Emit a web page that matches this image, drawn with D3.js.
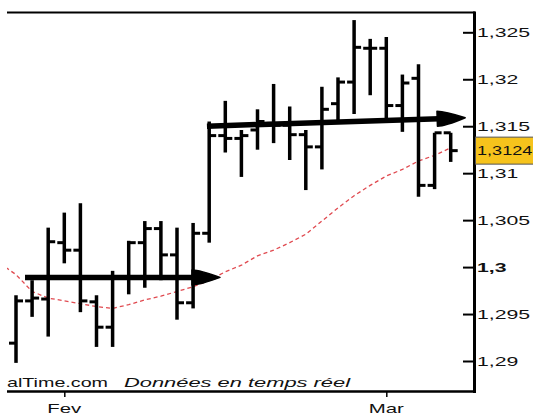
<!DOCTYPE html>
<html><head><meta charset="utf-8">
<script src="https://cdn.jsdelivr.net/npm/d3@7"></script>
<style>html,body{margin:0;padding:0;background:#fff;overflow:hidden}</style>
</head><body><svg id="c" width="533" height="415"></svg>
<script>
// ---- data ----
const dates = ["29/01","30/01","31/01","01/02","02/02","05/02","06/02","07/02","08/02","09/02",
  "12/02","13/02","14/02","15/02","16/02","19/02","20/02","21/02","22/02","23/02",
  "26/02","27/02","28/02","01/03","02/03","05/03","06/03","07/03"];
const open  = [1.2919,1.2964,1.2966,1.3026,1.3018,1.2963,1.2936,1.2988,1.3026,1.3041,
  1.3013,1.2962,1.3036,1.3140,1.3137,1.3146,1.3153,1.3151,1.3141,1.3128,
  1.3174,1.3197,1.3233,1.3233,1.3172,1.3201,1.3087,1.3143];
const high  = [1.2970,1.2986,1.3042,1.3058,1.3068,1.2970,1.2996,1.3028,1.3049,1.3049,
  1.3042,1.3047,1.3155,1.3177,1.3146,1.3168,1.3195,1.3171,1.3146,1.3192,
  1.3202,1.3263,1.3243,1.3245,1.3205,1.3216,1.3143,1.3143];
const low   = [1.2898,1.2947,1.2926,1.3004,1.2952,1.2915,1.2915,1.2971,1.2978,1.2986,
  1.2944,1.2956,1.3026,1.3122,1.3096,1.3125,1.3132,1.3114,1.3082,1.3104,
  1.3155,1.3163,1.3183,1.3157,1.3144,1.3075,1.3083,1.3112];
const close = [1.2964,1.2967,1.3027,1.3018,1.2964,1.2936,1.2988,1.3026,1.3041,1.3013,
  1.2962,1.3036,1.3140,1.3137,1.3140,1.3155,1.3151,1.3141,1.3128,1.3168,
  1.3197,1.3234,1.3233,1.3172,1.3196,1.3087,1.3143,1.3124];
const maPrev = 1.3004; // 26/01
const ma = [1.2992,1.2974,1.2967,1.2964,1.2961,1.2958,1.2956,1.2960,1.2965,1.2969,
  1.2974,1.2979,1.2986,1.2995,1.3002,1.3012,1.3018,1.3026,1.3035,1.3049,
  1.3063,1.3076,1.3087,1.3097,1.3104,1.3113,1.3119,1.3127];
const trendStartIdx = [0.56, 11.86];
const trendEndIdx   = [12.67, 27.9];
const trendStartVal = [1.2989, 1.3150];
const trendEndVal   = [1.2989, 1.3159];
const yTicks = [1.29,1.295,1.3,1.305,1.31,1.315,1.32,1.325];
const monthTickIdx = [3, 23];
const monthLabels = ["Fev","Mar"];
const lastPrice = 1.3124;
const footerSource = "alTime.com";
const footerNote = "Données en temps réel";

// ---- drawing ----
const svg = d3.select("#c");
const x = d3.scaleLinear().domain([0, dates.length-1]).range([16, 450.7]);
const y = d3.scaleLinear().domain([1.29, 1.325]).range([361, 32.3]);
const fmt = d3.formatLocale({decimal:",",thousands:" ",grouping:[3],currency:["","€"]}).format("~g");
const SX = 1.7;
const FONT = "Liberation Sans, Arial, sans-serif";

svg.append("defs").append("clipPath").attr("id","clip")
  .append("rect").attr("x",7).attr("y",13).attr("width",466).attr("height",377);
const g = svg.append("g").attr("clip-path","url(#clip)");

// moving average
const maPts = [[-1, maPrev]].concat(ma.map((v,i)=>[i,v]));
g.append("path")
  .attr("d", d3.line().x(d=>x(d[0])).y(d=>y(d[1]))(maPts))
  .attr("fill","none").attr("stroke","#e04a50").attr("stroke-width",1.3)
  .attr("stroke-dasharray","4,3");

// OHLC bars
const bars = g.selectAll("g.bar").data(dates).join("g").attr("class","bar");
bars.append("line").attr("x1",(d,i)=>x(i)).attr("x2",(d,i)=>x(i))
  .attr("y1",(d,i)=>y(high[i])).attr("y2",(d,i)=>y(low[i]))
  .attr("stroke","#000").attr("stroke-width",3.5);
bars.append("line").attr("x1",(d,i)=>x(i)-7).attr("x2",(d,i)=>x(i))
  .attr("y1",(d,i)=>y(open[i])).attr("y2",(d,i)=>y(open[i]))
  .attr("stroke","#000").attr("stroke-width",3);
bars.append("line").attr("x1",(d,i)=>x(i)).attr("x2",(d,i)=>x(i)+7)
  .attr("y1",(d,i)=>y(close[i])).attr("y2",(d,i)=>y(close[i]))
  .attr("stroke","#000").attr("stroke-width",3);

// trend arrows
trendStartIdx.forEach((s,k)=>{
  const x0=x(s), y0=y(trendStartVal[k]), x1=x(trendEndIdx[k]), y1=y(trendEndVal[k]);
  const ang = Math.atan2(y1-y0, x1-x0);
  const L=28, Hh=7.5;
  const bx = x1 - L*Math.cos(ang), by = y1 - L*Math.sin(ang);
  g.append("line").attr("x1",x0).attr("y1",y0).attr("x2",bx+2).attr("y2",by)
    .attr("stroke","#000").attr("stroke-width",5.5);
  const nx = -Math.sin(ang), ny = Math.cos(ang);
  g.append("path")
    .attr("d",`M${bx+nx*Hh},${by+ny*Hh} Q${bx+8},${by+ny*Hh} ${x1},${y1} Q${bx+8},${by-ny*Hh} ${bx-nx*Hh},${by-ny*Hh} Z`)
    .attr("fill","#000").attr("stroke","#000").attr("stroke-width",1.5).attr("stroke-linejoin","round");
});

// frame
svg.append("line").attr("x1",7).attr("x2",475).attr("y1",12.5).attr("y2",12.5)
  .attr("stroke","#000").attr("stroke-width",2);
svg.append("line").attr("x1",7).attr("x2",476).attr("y1",391.5).attr("y2",391.5)
  .attr("stroke","#000").attr("stroke-width",2.5);

// right axis
const yAxis = svg.append("g").attr("transform","translate(474,0)")
  .call(d3.axisLeft(y).tickValues(yTicks).tickSize(11).tickFormat(""));
yAxis.select(".domain").remove();
yAxis.selectAll(".tick line").attr("stroke","#000").attr("stroke-width",2);
svg.append("line").attr("x1",474.5).attr("x2",474.5).attr("y1",11.5).attr("y2",393)
  .attr("stroke","#000").attr("stroke-width",3);

svg.selectAll("g.ylab").data(yTicks).join("g").attr("class","ylab")
  .attr("transform",d=>`translate(477,${y(d)+4.5}) scale(${SX},1)`)
  .append("text").text(d=>fmt(d))
  .attr("font-family",FONT).attr("font-size",12.5)
  .attr("font-weight",d=>d===1.3?"bold":"normal").attr("fill","#111");

// last price label
const ly = y(lastPrice);
svg.append("rect").attr("x",475.5).attr("y",ly-13.5).attr("width",60).attr("height",27)
  .attr("fill","#f6c31c").attr("stroke","#555").attr("stroke-width",1);
svg.append("g").attr("transform",`translate(477,${ly+4.5}) scale(1.45,1)`)
  .append("text").text(fmt(lastPrice))
  .attr("font-family",FONT).attr("font-size",12.5).attr("fill","#111");

// bottom axis ticks & labels
const xAxis = svg.append("g").attr("transform","translate(0,392)")
  .call(d3.axisBottom(x).tickValues(monthTickIdx).tickSize(5).tickFormat(""));
xAxis.select(".domain").remove();
xAxis.selectAll(".tick line").attr("stroke","#000").attr("stroke-width",1.5);
svg.selectAll("g.xlab").data(monthTickIdx).join("g").attr("class","xlab")
  .attr("transform",d=>`translate(${x(d)},412.5) scale(${SX},1)`)
  .append("text").text((d,i)=>monthLabels[i]).attr("text-anchor","middle")
  .attr("font-family",FONT).attr("font-size",12).attr("fill","#111");

// footer
svg.append("text").attr("x",7).attr("y",387).text(footerSource)
  .attr("font-family",FONT).attr("font-size",13)
  .attr("textLength",101).attr("lengthAdjust","spacingAndGlyphs").attr("fill","#111");
svg.append("text").attr("x",124).attr("y",387).text(footerNote)
  .attr("font-family",FONT).attr("font-size",13).attr("font-style","italic")
  .attr("textLength",226).attr("lengthAdjust","spacingAndGlyphs").attr("fill","#111");
</script>
</body></html>
